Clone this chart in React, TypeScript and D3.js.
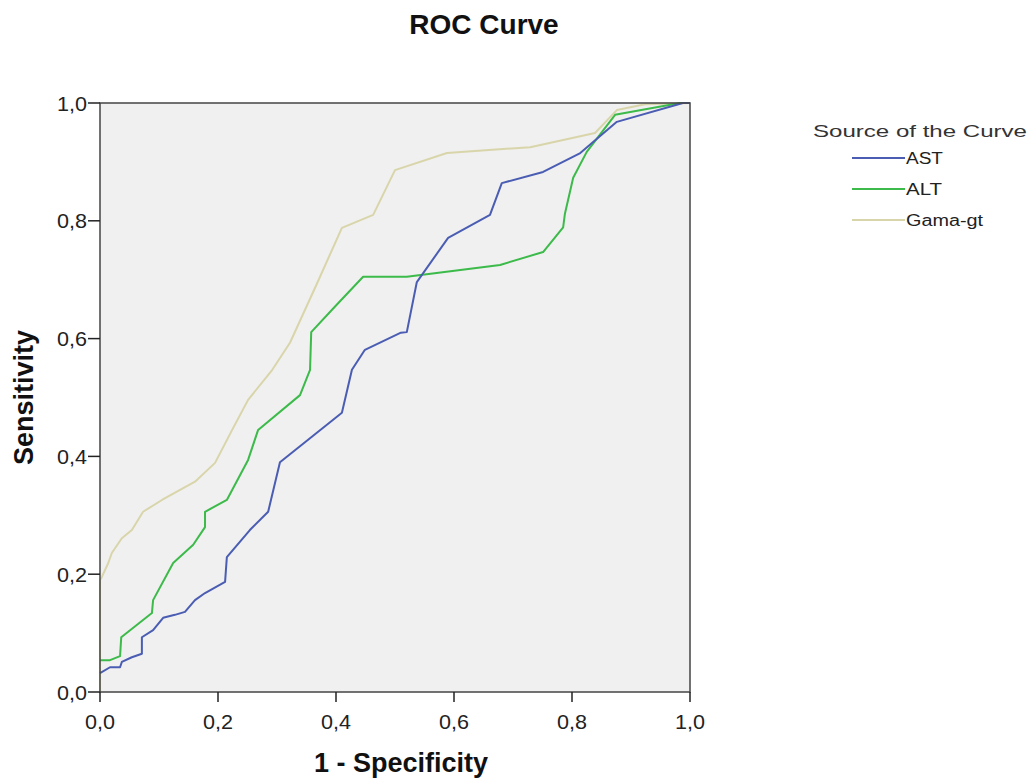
import React from 'react';
import * as d3 from 'd3';

// ROC points: [1 - specificity, sensitivity]
const astPoints: [number, number][] = [
  [0, 0.032], [0.017, 0.042], [0.034, 0.042], [0.037, 0.051], [0.054, 0.059],
  [0.071, 0.065], [0.071, 0.093], [0.09, 0.105], [0.107, 0.126], [0.127, 0.131],
  [0.144, 0.136], [0.161, 0.156], [0.178, 0.168], [0.212, 0.187], [0.215, 0.229],
  [0.254, 0.275], [0.285, 0.306], [0.305, 0.39], [0.41, 0.474], [0.427, 0.547],
  [0.449, 0.581], [0.51, 0.61], [0.52, 0.611], [0.537, 0.696], [0.59, 0.771],
  [0.661, 0.81], [0.681, 0.864], [0.751, 0.883], [0.814, 0.915], [0.876, 0.968],
  [0.988, 1], [1, 1],
];

const altPoints: [number, number][] = [
  [0, 0.054], [0.017, 0.054], [0.034, 0.061], [0.036, 0.093], [0.088, 0.134],
  [0.09, 0.156], [0.124, 0.219], [0.158, 0.25], [0.178, 0.28], [0.178, 0.306],
  [0.215, 0.326], [0.251, 0.394], [0.268, 0.445], [0.339, 0.504], [0.356, 0.547],
  [0.358, 0.611], [0.398, 0.654], [0.446, 0.705], [0.52, 0.705], [0.678, 0.725],
  [0.751, 0.747], [0.785, 0.789], [0.788, 0.812], [0.802, 0.873], [0.825, 0.917],
  [0.873, 0.98], [0.983, 1], [1, 1],
];

const ggtPoints: [number, number][] = [
  [0, 0], [0, 0.19], [0.003, 0.195], [0.014, 0.219], [0.02, 0.236],
  [0.037, 0.261], [0.054, 0.275], [0.073, 0.306], [0.105, 0.326], [0.161, 0.357],
  [0.195, 0.389], [0.224, 0.445], [0.251, 0.496], [0.292, 0.547], [0.322, 0.593],
  [0.368, 0.694], [0.41, 0.788], [0.463, 0.81], [0.5, 0.886], [0.588, 0.915],
  [0.729, 0.925], [0.839, 0.949], [0.876, 0.988], [0.924, 0.998], [1, 1],
];

const seriesNames = ['AST', 'ALT', 'Gama-gt'];
const seriesColors = ['#4a5db3', '#3cba4a', '#d9d5aa'];
const tickValues = [0, 0.2, 0.4, 0.6, 0.8, 1.0];

const font = '"Liberation Sans", Arial, sans-serif';
// the original renders legend text a bit wider and tick labels narrower than Arial
const legendWidths = [37, 36, 77];

const App = () => {
  const plot = { left: 100, top: 103, right: 690, bottom: 692 };

  const x = d3.scaleLinear().domain([0, 1]).range([plot.left, plot.right]);
  const y = d3.scaleLinear().domain([0, 1]).range([plot.bottom, plot.top]);

  const line = d3.line<[number, number]>()
    .x(d => x(d[0]))
    .y(d => y(d[1]));

  const fmt = (v: number) => d3.format('.1f')(v).replace('.', ',');

  // light curve first so the others sit on top
  const series = [
    { name: seriesNames[2], color: seriesColors[2], data: ggtPoints },
    { name: seriesNames[1], color: seriesColors[1], data: altPoints },
    { name: seriesNames[0], color: seriesColors[0], data: astPoints },
  ];

  return (
    <svg
      width={1034}
      height={780}
      style={{ position: 'absolute', left: 0, top: 0, background: '#fff' }}
      fontFamily={font}
    >
      <text x={484} y={34} textAnchor="middle" fontSize={28} fontWeight="bold" fill="#111">
        ROC Curve
      </text>

      <rect
        x={x(0)}
        y={y(1)}
        width={x(1) - x(0)}
        height={y(0) - y(1)}
        fill="#f0f0f0"
      />

      {series.map(s => (
        <path
          key={s.name}
          d={line(s.data) || ''}
          fill="none"
          stroke={s.color}
          strokeWidth={2}
          strokeLinejoin="round"
        />
      ))}

      <rect
        x={x(0)}
        y={y(1)}
        width={x(1) - x(0)}
        height={y(0) - y(1)}
        fill="none"
        stroke="#444"
        strokeWidth={1.5}
      />

      {/* y axis */}
      {tickValues.map(t => (
        <g key={'y' + t}>
          <line x1={x(0) - 12} x2={x(0)} y1={y(t)} y2={y(t)} stroke="#222" strokeWidth={1.5} />
          <text
            x={x(0) - 13}
            y={y(t)}
            dy="0.36em"
            textAnchor="end"
            fontSize={21}
            fill="#222"
            textLength={30}
            lengthAdjust="spacingAndGlyphs"
          >
            {fmt(t)}
          </text>
        </g>
      ))}

      {/* x axis */}
      {tickValues.map(t => (
        <g key={'x' + t}>
          <line x1={x(t)} x2={x(t)} y1={y(0)} y2={y(0) + 10} stroke="#222" strokeWidth={1.5} />
          <text
            x={x(t) - 15}
            y={y(0) + 37}
            fontSize={21}
            fill="#222"
            textLength={30}
            lengthAdjust="spacingAndGlyphs"
          >
            {fmt(t)}
          </text>
        </g>
      ))}

      <text x={401} y={772} textAnchor="middle" fontSize={27} fontWeight="bold" fill="#111">
        1 - Specificity
      </text>
      <text
        transform={`translate(33, ${(y(0) + y(1)) / 2}) rotate(-90)`}
        textAnchor="middle"
        fontSize={27}
        fontWeight="bold"
        fill="#111"
      >
        Sensitivity
      </text>

      {/* legend */}
      <text x={813} y={137} fontSize={17} fill="#333" textLength={214} lengthAdjust="spacingAndGlyphs">
        Source of the Curve
      </text>
      {seriesNames.map((name, i) => (
        <g key={name} transform={`translate(852, ${158 + i * 31})`}>
          <line x1={0} x2={53} y1={0} y2={0} stroke={seriesColors[i]} strokeWidth={2} />
          <text
            x={54}
            y={0}
            dy="0.36em"
            fontSize={16}
            fill="#222"
            textLength={legendWidths[i]}
            lengthAdjust="spacingAndGlyphs"
          >
            {name}
          </text>
        </g>
      ))}
    </svg>
  );
};

export default App;
